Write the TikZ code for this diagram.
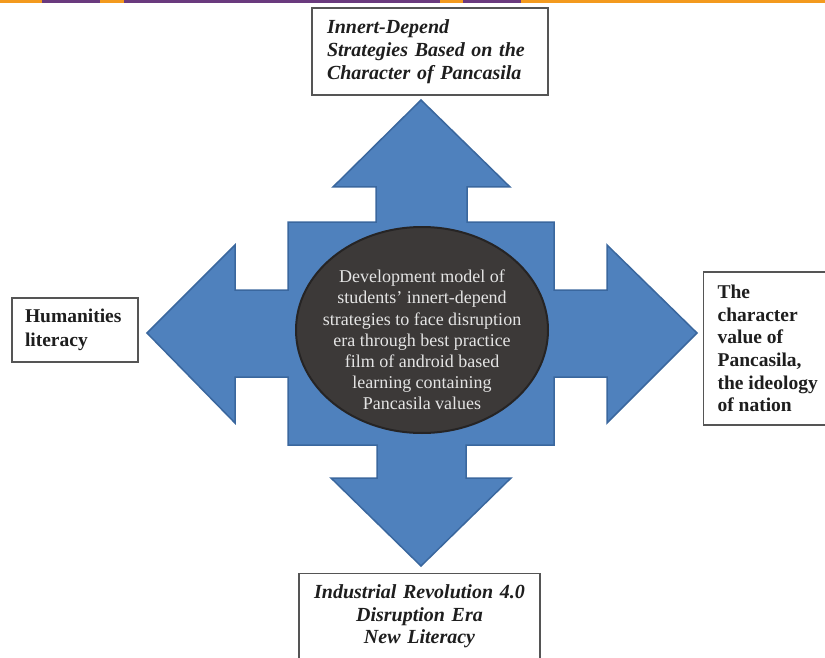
\documentclass[tikz,border=0pt]{standalone}
\usepackage{fontspec}
\setmainfont{Liberation Serif}
\usetikzlibrary{shapes.geometric}
\definecolor{barorange}{HTML}{F39A1E}
\definecolor{barpurple}{HTML}{6A3A7E}
\definecolor{arrowblue}{HTML}{4F81BD}
\definecolor{arrowedge}{HTML}{3A679E}
\definecolor{hubfill}{HTML}{3C3938}
\definecolor{hubedge}{HTML}{262424}
\definecolor{hubtext}{HTML}{E4E4E4}
\definecolor{boxedge}{HTML}{555555}
\definecolor{boxtext}{HTML}{1E1E1E}

\begin{document}
\begin{tikzpicture}[x=1pt, y=-1pt,
	textbox/.style={draw=boxedge, line width=1.2pt, fill=white, text=boxtext, inner sep=0pt, font=\bfseries\fontsize{19.5}{22.7}\selectfont},
	hub/.style={ellipse, draw=hubedge, line width=2pt, fill=hubfill, minimum width=252pt, minimum height=206pt, inner sep=0pt},
	hubtext/.style={text=hubtext, align=center, font=\fontsize{18}{21.2}\selectfont}]
				\useasboundingbox (0, 0) rectangle (825, 658);
				\foreach \a/\b/\c in {0/42/barorange, 42/100/barpurple, 100/124/barorange, 124/440/barpurple, 440/463/barorange, 463/521/barpurple, 521/825/barorange}
				\fill[\c] (\a, 0) rectangle (\b, 3.5);
				\draw[fill=arrowblue, draw=arrowedge, line width=1.5pt] (421, 100) -- (510, 187) -- (467, 187) -- (467, 222) -- (554, 222) -- (554, 290) -- (607, 290) -- (607, 245) -- (697, 333) -- (607, 423) -- (607, 377) -- (554, 377) -- (554, 445) -- (466, 445) -- (466, 478) -- (511, 478) -- (421, 566) -- (331, 478) -- (377, 478) -- (377, 445) -- (288, 445) -- (288, 377) -- (235, 377) -- (235, 423) -- (147, 333) -- (235, 245) -- (235, 290) -- (288, 290) -- (288, 222) -- (376, 222) -- (376, 187) -- (333, 187) -- cycle;
				\node[hub] (core) at (422, 330) {};
				\node[hubtext] (coretext) at (422, 340) {Development model of\\students' innert-depend\\strategies to face disruption\\era through best practice\\film of android based\\learning containing\\Pancasila values};
				\node[textbox, font=\bfseries\itshape\fontsize{20}{23.3}\selectfont, text width=206pt, align=left, inner xsep=15pt, minimum height=87pt] (strategy) at (430, 51.5) {Innert-Depend\\Strategies Based on the\\Character of Pancasila};
				\node[textbox, font=\bfseries\fontsize{19.5}{24}\selectfont, text width=100pt, align=left, inner xsep=13pt, minimum height=64pt] (humanities) at (75, 330) {Humanities\\literacy};
				\node[textbox, align=left, inner xsep=14pt, minimum height=153pt, anchor=west] (ideology) at (703, 348.5) {The\\character\\value of\\Pancasila,\\the ideology\\of nation};
				\node[textbox, font=\bfseries\itshape\fontsize{20}{22.5}\selectfont, text width=213pt, align=center, inner xsep=14pt, inner ysep=11pt, text height=14pt, text depth=75pt, anchor=north] (era) at (419.5, 573) {Industrial Revolution 4.0\\Disruption Era\\New Literacy};
			\end{tikzpicture}
\end{document}
